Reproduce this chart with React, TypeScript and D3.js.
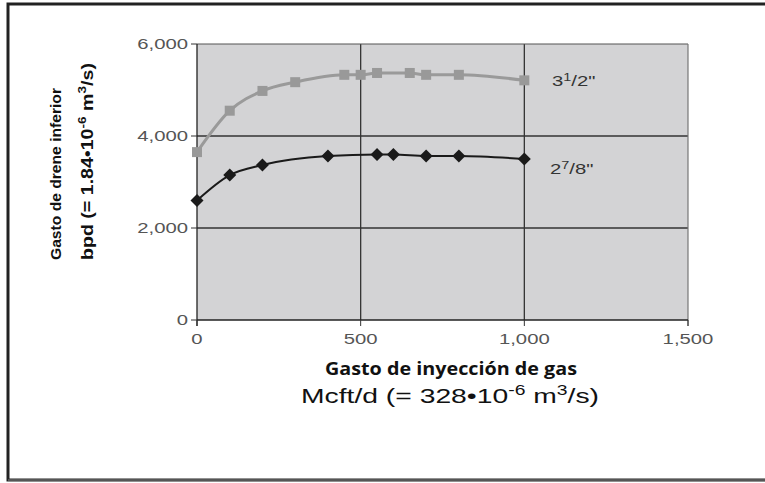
import React from "react";
import * as d3 from "d3";

const gasInjection35 = [0, 100, 200, 300, 450, 500, 550, 650, 700, 800, 1000];
const rate35 = [3650, 4550, 4980, 5170, 5330, 5330, 5370, 5370, 5330, 5330, 5210];
const gasInjection278 = [0, 100, 200, 400, 550, 600, 700, 800, 1000];
const rate278 = [2600, 3150, 3370, 3565, 3600, 3600, 3565, 3565, 3500];
const xTicks = [0, 500, 1000, 1500];
const yTicks = [0, 2000, 4000, 6000];

const W = 765;
const H = 483;
const left = 197;
const right = 688;
const top = 44;
const bottom = 320;
const SX = 1.45;

export default function App() {
  const x = d3.scaleLinear().domain([0, 1500]).range([left, right]);
  const y = d3.scaleLinear().domain([0, 6000]).range([bottom, top]);
  const fmt = d3.format(",");
  const line = d3
    .line<[number, number]>()
    .x((d) => x(d[0]))
    .y((d) => y(d[1]))
    .curve(d3.curveMonotoneX);
  const s35: [number, number][] = gasInjection35.map((g, i) => [g, rate35[i]]);
  const s278: [number, number][] = gasInjection278.map((g, i) => [g, rate278[i]]);
  const tickFont = "'Liberation Sans', Arial, sans-serif";

  return (
    <svg
      width={W}
      height={H}
      style={{ position: "absolute", left: 0, top: 0, background: "#fff" }}
    >
      {/* frame */}
      <rect x={8} y={4} width={W + 20} height={476} fill="#fff" stroke="#222" strokeWidth={3} />
      <line x1={8} x2={W} y1={480} y2={480} stroke="#555" strokeWidth={2} />

      {/* plot area */}
      <rect x={left} y={top} width={right - left} height={bottom - top} fill="#d3d3d5" />
      {yTicks
        .filter((t) => t > 0 && t < 6000)
        .map((t) => (
          <line key={"gy" + t} x1={left} x2={right} y1={y(t)} y2={y(t)} stroke="#333" strokeWidth={1.3} />
        ))}
      {xTicks
        .filter((t) => t > 0 && t < 1500)
        .map((t) => (
          <line key={"gx" + t} x1={x(t)} x2={x(t)} y1={top} y2={bottom} stroke="#333" strokeWidth={1.3} />
        ))}
      <line x1={left} x2={right} y1={top} y2={top} stroke="#555" strokeWidth={1.2} />
      <line x1={right} x2={right} y1={top} y2={bottom + 6} stroke="#777" strokeWidth={1.2} />

      {/* axes */}
      <line x1={left} x2={left} y1={top} y2={bottom + 6} stroke="#222" strokeWidth={1.3} />
      <line x1={left} x2={right} y1={bottom} y2={bottom} stroke="#222" strokeWidth={1.3} />
      {yTicks.map((t) => (
        <g key={"yt" + t}>
          <line x1={left - 6} x2={left} y1={y(t)} y2={y(t)} stroke="#333" strokeWidth={1} />
          <text
            transform={`translate(${left - 9},${y(t)}) scale(${SX},1)`}
            dy="0.36em"
            textAnchor="end"
            fontFamily={tickFont}
            fontSize={14}
            fill="#555"
          >
            {fmt(t)}
          </text>
        </g>
      ))}
      {xTicks.map((t) => (
        <g key={"xt" + t}>
          <line x1={x(t)} x2={x(t)} y1={bottom} y2={bottom + 6} stroke="#333" strokeWidth={1} />
          <text
            transform={`translate(${x(t)},${bottom + 19}) scale(${SX},1)`}
            dy="0.36em"
            textAnchor="middle"
            fontFamily={tickFont}
            fontSize={14}
            fill="#555"
          >
            {fmt(t)}
          </text>
        </g>
      ))}

      {/* series */}
      <path d={line(s35) || ""} fill="none" stroke="#9a9a9a" strokeWidth={3} />
      {s35.map((d, i) => (
        <rect key={"sq" + i} x={x(d[0]) - 5} y={y(d[1]) - 5} width={10} height={10} fill="#999" />
      ))}
      <path d={line(s278) || ""} fill="none" stroke="#1a1a1a" strokeWidth={2} />
      {s278.map((d, i) => (
        <path
          key={"dm" + i}
          d={`M${x(d[0])},${y(d[1]) - 6.5}L${x(d[0]) + 6.5},${y(d[1])}L${x(d[0])},${y(d[1]) + 6.5}L${x(d[0]) - 6.5},${y(d[1])}Z`}
          fill="#1a1a1a"
        />
      ))}

      {/* series labels */}
      <text transform={`translate(552,86) scale(${SX},1)`} fontFamily={tickFont} fontSize={14} fill="#333">
        3<tspan fontSize={10} dy={-5}>1</tspan>
        <tspan dy={5}>/2"</tspan>
      </text>
      <text transform={`translate(550,174) scale(${SX},1)`} fontFamily={tickFont} fontSize={14} fill="#333">
        2<tspan fontSize={10} dy={-5}>7</tspan>
        <tspan dy={5}>/8"</tspan>
      </text>

      {/* y-axis title */}
      <text
        transform="translate(61,260) rotate(-90)"
        fontFamily={tickFont}
        fontWeight="bold"
        fontSize={15.5}
        fill="#111"
        textLength={172}
        lengthAdjust="spacingAndGlyphs"
      >
        Gasto de drene inferior
      </text>
      <text
        transform="translate(93,260) rotate(-90)"
        fontFamily={tickFont}
        fontWeight="bold"
        fontSize={16.5}
        fill="#111"
        textLength={197}
        lengthAdjust="spacingAndGlyphs"
      >
        bpd (= 1.84•10<tspan fontSize={11.5} dy={-7}>-6</tspan>
        <tspan dy={7}> m</tspan>
        <tspan fontSize={11.5} dy={-7}>3</tspan>
        <tspan dy={7}>/s)</tspan>
      </text>

      {/* x-axis titles */}
      <text
        x={325}
        y={375}
        fontFamily="'Open Sans', 'Noto Sans', sans-serif"
        fontWeight="bold"
        fontSize={18}
        fill="#111"
        textLength={252}
        lengthAdjust="spacingAndGlyphs"
      >
        Gasto de inyección de gas
      </text>
      <text
        x={301}
        y={403}
        fontFamily={tickFont}
        fontSize={20.5}
        fill="#111"
        textLength={298}
        lengthAdjust="spacingAndGlyphs"
      >
        Mcft/d (= 328•10<tspan fontSize={14} dy={-8}>-6</tspan>
        <tspan dy={8}> m</tspan>
        <tspan fontSize={14} dy={-8}>3</tspan>
        <tspan dy={8}>/s)</tspan>
      </text>
    </svg>
  );
}
